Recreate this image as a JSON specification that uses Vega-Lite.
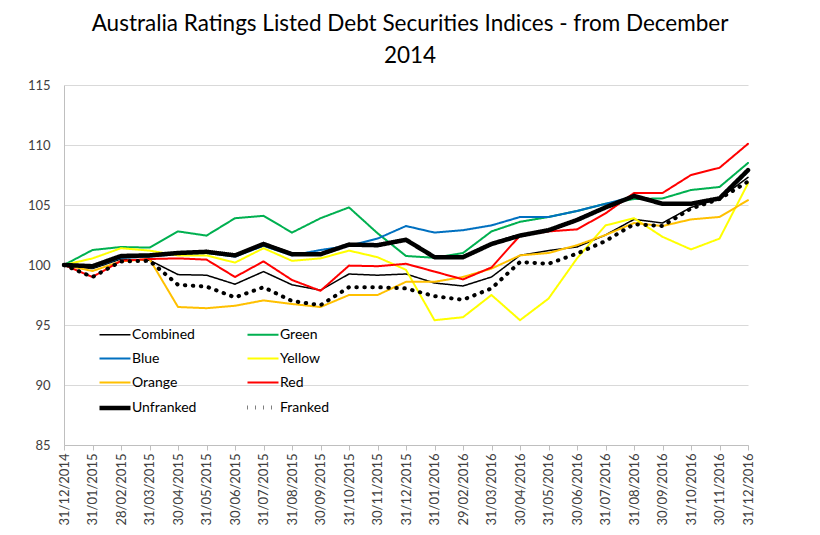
{
  "$schema": "https://vega.github.io/schema/vega-lite/v6.json",
  "width": 684,
  "height": 360,
  "autosize": "none",
  "padding": {"left": 64, "top": 85, "right": 72, "bottom": 90},
  "background": "white",
  "title": {
    "text": ["Australia Ratings Listed Debt Securities Indices - from December", "2014"],
    "fontSize": 22.5,
    "font": "Lato",
    "fontWeight": "normal",
    "color": "#000000",
    "anchor": "middle",
    "offset": 12,
    "lineHeight": 32,
    "dx": 4
  },
  "config": {
    "view": {"stroke": null},
    "axis": {"labelFont": "Lato", "labelColor": "#404040", "title": null}
  },
  "data": {
    "values": [
      {"date": "31/12/2014", "Combined": 100, "Green": 100, "Blue": 100, "Yellow": 100, "Orange": 100, "Red": 100, "Unfranked": 100, "Franked": 100},
      {"date": "31/01/2015", "Combined": 99.7, "Green": 101.25, "Blue": 99.8, "Yellow": 100.55, "Orange": 99.5, "Red": 99.0, "Unfranked": 99.9, "Franked": 99.0},
      {"date": "28/02/2015", "Combined": 100.5, "Green": 101.5, "Blue": 100.6, "Yellow": 101.4, "Orange": 100.3, "Red": 100.35, "Unfranked": 100.75, "Franked": 100.3},
      {"date": "31/03/2015", "Combined": 100.4, "Green": 101.45, "Blue": 100.7, "Yellow": 101.2, "Orange": 100.5, "Red": 100.5, "Unfranked": 100.8, "Franked": 100.35},
      {"date": "30/04/2015", "Combined": 99.2, "Green": 102.8, "Blue": 100.9, "Yellow": 100.8, "Orange": 96.5, "Red": 100.55, "Unfranked": 101.0, "Franked": 98.35},
      {"date": "31/05/2015", "Combined": 99.15, "Green": 102.45, "Blue": 101.0, "Yellow": 100.8, "Orange": 96.4, "Red": 100.45, "Unfranked": 101.1, "Franked": 98.2},
      {"date": "30/06/2015", "Combined": 98.4, "Green": 103.9, "Blue": 100.7, "Yellow": 100.2, "Orange": 96.6, "Red": 99.0, "Unfranked": 100.8, "Franked": 97.3},
      {"date": "31/07/2015", "Combined": 99.45, "Green": 104.1, "Blue": 101.6, "Yellow": 101.4, "Orange": 97.05, "Red": 100.3, "Unfranked": 101.75, "Franked": 98.15},
      {"date": "31/08/2015", "Combined": 98.35, "Green": 102.7, "Blue": 100.8, "Yellow": 100.35, "Orange": 96.75, "Red": 98.75, "Unfranked": 100.9, "Franked": 97.0},
      {"date": "30/09/2015", "Combined": 97.9, "Green": 103.9, "Blue": 101.25, "Yellow": 100.55, "Orange": 96.5, "Red": 97.85, "Unfranked": 100.9, "Franked": 96.65},
      {"date": "31/10/2015", "Combined": 99.25, "Green": 104.8, "Blue": 101.6, "Yellow": 101.2, "Orange": 97.5, "Red": 99.95, "Unfranked": 101.7, "Franked": 98.15},
      {"date": "30/11/2015", "Combined": 99.15, "Green": 102.65, "Blue": 102.2, "Yellow": 100.65, "Orange": 97.5, "Red": 99.9, "Unfranked": 101.65, "Franked": 98.15},
      {"date": "31/12/2015", "Combined": 99.25, "Green": 100.75, "Blue": 103.25, "Yellow": 99.6, "Orange": 98.6, "Red": 100.1, "Unfranked": 102.1, "Franked": 98.05},
      {"date": "31/01/2016", "Combined": 98.5, "Green": 100.6, "Blue": 102.7, "Yellow": 95.4, "Orange": 98.6, "Red": 99.45, "Unfranked": 100.65, "Franked": 97.4},
      {"date": "29/02/2016", "Combined": 98.25, "Green": 101.0, "Blue": 102.9, "Yellow": 95.65, "Orange": 99.0, "Red": 98.8, "Unfranked": 100.65, "Franked": 97.1},
      {"date": "31/03/2016", "Combined": 99.0, "Green": 102.8, "Blue": 103.3, "Yellow": 97.5, "Orange": 99.7, "Red": 99.8, "Unfranked": 101.75, "Franked": 98.05},
      {"date": "30/04/2016", "Combined": 100.8, "Green": 103.6, "Blue": 104.0, "Yellow": 95.4, "Orange": 100.8, "Red": 102.45, "Unfranked": 102.45, "Franked": 100.25},
      {"date": "31/05/2016", "Combined": 101.2, "Green": 104.0, "Blue": 104.0, "Yellow": 97.2, "Orange": 101.0, "Red": 102.8, "Unfranked": 102.9, "Franked": 100.1},
      {"date": "30/06/2016", "Combined": 101.5, "Green": 104.5, "Blue": 104.5, "Yellow": 100.55, "Orange": 101.65, "Red": 102.97, "Unfranked": 103.75, "Franked": 100.95},
      {"date": "31/07/2016", "Combined": 102.5, "Green": 105.1, "Blue": 105.1, "Yellow": 103.3, "Orange": 102.5, "Red": 104.3, "Unfranked": 104.8, "Franked": 102.0},
      {"date": "31/08/2016", "Combined": 103.8, "Green": 105.5, "Blue": 105.7, "Yellow": 103.9, "Orange": 103.5, "Red": 106.0, "Unfranked": 105.75, "Franked": 103.4},
      {"date": "30/09/2016", "Combined": 103.5, "Green": 105.55, "Blue": 105.1, "Yellow": 102.35, "Orange": 103.25, "Red": 106.0, "Unfranked": 105.1, "Franked": 103.25},
      {"date": "31/10/2016", "Combined": 104.8, "Green": 106.25, "Blue": 105.1, "Yellow": 101.3, "Orange": 103.8, "Red": 107.5, "Unfranked": 105.1, "Franked": 104.7},
      {"date": "30/11/2016", "Combined": 105.55, "Green": 106.5, "Blue": 105.5, "Yellow": 102.2, "Orange": 104.0, "Red": 108.1, "Unfranked": 105.55, "Franked": 105.5},
      {"date": "31/12/2016", "Combined": 107.3, "Green": 108.5, "Blue": 107.8, "Yellow": 106.8, "Orange": 105.4, "Red": 110.1, "Unfranked": 107.9, "Franked": 106.95}
    ]
  },
  "transform": [
    {"fold": ["Combined", "Green", "Blue", "Yellow", "Orange", "Red", "Unfranked", "Franked"], "as": ["series", "value"]}
  ],
  "mark": {"type": "line", "strokeCap": "round", "strokeJoin": "round"},
  "encoding": {
    "x": {
      "field": "date",
      "type": "ordinal",
      "sort": null,
      "scale": {"type": "point", "padding": 0},
      "axis": {
        "labelAngle": -90,
        "labelFontSize": 13,
        "labelPadding": 3,
        "tickColor": "#bfbfbf",
        "domainColor": "#bfbfbf",
        "tickSize": 5,
        "grid": false
      }
    },
    "y": {
      "field": "value",
      "type": "quantitative",
      "scale": {"domain": [85, 115], "nice": false, "zero": false},
      "axis": {
        "values": [85, 90, 95, 100, 105, 110, 115],
        "labelFontSize": 13,
        "labelPadding": 14,
        "ticks": false,
        "grid": true,
        "gridColor": "#d9d9d9",
        "domainColor": "#bfbfbf"
      }
    },
    "color": {
      "field": "series",
      "type": "nominal",
      "sort": ["Combined", "Green", "Blue", "Yellow", "Orange", "Red", "Unfranked", "Franked"],
      "scale": {
        "domain": ["Combined", "Green", "Blue", "Yellow", "Orange", "Red", "Unfranked", "Franked"],
        "range": ["#000000", "#00b050", "#0070c0", "#ffff00", "#ffc000", "#ff0000", "#000000", "#000000"]
      },
      "legend": {
        "title": null,
        "orient": "none",
        "legendX": 33,
        "legendY": 233,
        "columns": 2,
        "direction": "horizontal",
        "columnPadding": 42,
        "rowPadding": -7,
        "symbolType": "stroke",
        "symbolSize": 961,
        "labelFont": "Lato",
        "labelFontSize": 14,
        "labelColor": "#000000",
        "labelOffset": -1
      }
    },
    "strokeDash": {
      "field": "series",
      "type": "nominal",
      "sort": ["Combined", "Green", "Blue", "Yellow", "Orange", "Red", "Unfranked", "Franked"],
      "scale": {
        "domain": ["Combined", "Green", "Blue", "Yellow", "Orange", "Red", "Unfranked", "Franked"],
        "range": [[1, 0], [1, 0], [1, 0], [1, 0], [1, 0], [1, 0], [1, 0], [0.5, 7.5]]
      }
    },
    "strokeWidth": {
      "field": "series",
      "type": "nominal",
      "sort": ["Combined", "Green", "Blue", "Yellow", "Orange", "Red", "Unfranked", "Franked"],
      "scale": {
        "type": "ordinal",
        "domain": ["Combined", "Green", "Blue", "Yellow", "Orange", "Red", "Unfranked", "Franked"],
        "range": [1.5, 2, 2, 2, 2, 2, 4.5, 4]
      }
    }
  }
}
